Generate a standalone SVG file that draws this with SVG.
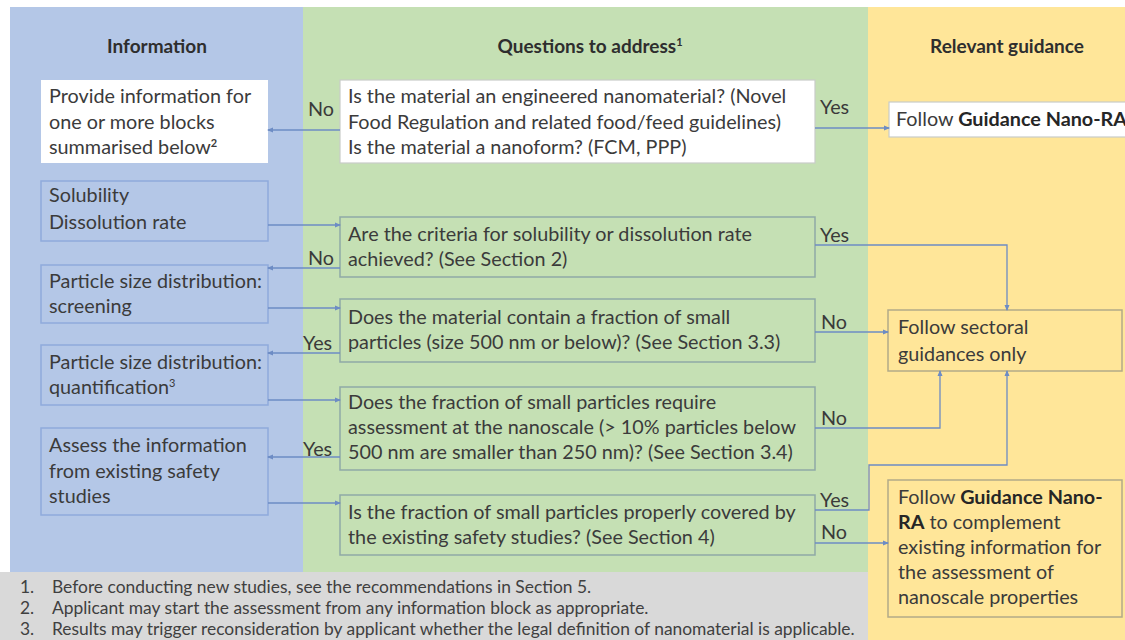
<svg xmlns="http://www.w3.org/2000/svg" width="1125" height="640" viewBox="0 0 1125 640">
<defs>
<marker id="ah" markerWidth="6" markerHeight="6" refX="5" refY="3" orient="auto" markerUnits="userSpaceOnUse">
<path d="M0,0.5 L6,3 L0,5.5 Z" fill="#6d8cc4"/>
</marker>
</defs>
<style>
.t{font-family:Lato,"Liberation Sans",sans-serif;font-size:19.8px;fill:#3b3b3b}
.h{font-weight:bold;font-size:19px;text-anchor:middle;fill:#2e2e2e}
.b{font-weight:bold;fill:#262626}
.fn{font-size:17.4px;fill:#404040}
.lbl{fill:#3a3a3a}
.conn path{fill:none;stroke:#6d8cc4;stroke-width:1.3}
.bb{fill:#b4c7e7;stroke:#8faadc;stroke-width:1.5}
.gb{fill:#c5e0b4;stroke:#8fa9a6;stroke-width:1.5}
.yb{fill:#ffe699;stroke:#b3aa88;stroke-width:1.5}
.wb{fill:#ffffff;stroke:#c8ccc8;stroke-width:1.2}
</style>
<rect x="0" y="0" width="1125" height="640" fill="#ffffff"/>
<g id="background">
<rect x="10" y="7" width="293" height="565" fill="#b4c7e7"/>
<rect x="303" y="7" width="565" height="565" fill="#c5e0b4"/>
<rect x="868" y="7" width="257" height="633" fill="#ffe699"/>
<rect x="0" y="572" width="868" height="68" fill="#d9d9d9"/>
</g>
<g id="headers">
<text class="t h" x="157" y="53">Information</text>
<text class="t h" x="590" y="53">Questions to address<tspan font-size="11" dy="-7">1</tspan></text>
<text class="t h" x="1007" y="53">Relevant guidance</text>
</g>
<g id="n-provide">
<rect x="41" y="80" width="227" height="83" fill="#ffffff"/>
<text class="t" x="49" y="103">Provide information for</text>
<text class="t" x="49" y="129">one or more blocks</text>
<text class="t" x="49" y="154">summarised below<tspan font-size="11" dy="-7" font-weight="bold">2</tspan></text>
</g>
<g id="n-q1">
<rect class="wb" x="340" y="80" width="475" height="83"/>
<text class="t" x="348" y="103">Is the material an engineered nanomaterial? (Novel</text>
<text class="t" x="348" y="129">Food Regulation and related food/feed guidelines)</text>
<text class="t" x="348" y="154">Is the material a nanoform? (FCM, PPP)</text>
</g>
<g id="n-nanora1">
<rect class="wb" x="889" y="102" width="240" height="35"/>
<text class="t" x="896" y="126" font-size="19px">Follow <tspan class="b">Guidance Nano-RA</tspan></text>
</g>
<g id="n-solubility">
<rect class="bb" x="41" y="181" width="227" height="60"/>
<text class="t" x="49" y="202">Solubility</text>
<text class="t" x="49" y="229">Dissolution rate</text>
</g>
<g id="n-screening">
<rect class="bb" x="41" y="265" width="227" height="58"/>
<text class="t" x="49" y="288">Particle size distribution:</text>
<text class="t" x="49" y="313">screening</text>
</g>
<g id="n-quant">
<rect class="bb" x="41" y="345" width="227" height="60"/>
<text class="t" x="49" y="369">Particle size distribution:</text>
<text class="t" x="49" y="394">quantification<tspan font-size="11" dy="-7">3</tspan></text>
</g>
<g id="n-assess">
<rect class="bb" x="41" y="428" width="227" height="87"/>
<text class="t" x="49" y="452">Assess the information</text>
<text class="t" x="49" y="478">from existing safety</text>
<text class="t" x="49" y="503">studies</text>
</g>
<g id="n-q2">
<rect class="gb" x="340" y="217" width="475" height="60"/>
<text class="t" x="348" y="241">Are the criteria for solubility or dissolution rate</text>
<text class="t" x="348" y="266">achieved? (See Section 2)</text>
</g>
<g id="n-q3">
<rect class="gb" x="340" y="299" width="475" height="63"/>
<text class="t" x="348" y="324">Does the material contain a fraction of small</text>
<text class="t" x="348" y="349">particles (size 500 nm or below)? (See Section 3.3)</text>
</g>
<g id="n-q4">
<rect class="gb" x="340" y="387" width="475" height="83"/>
<text class="t" x="348" y="409">Does the fraction of small particles require</text>
<text class="t" x="348" y="434">assessment at the nanoscale (&gt; 10% particles below</text>
<text class="t" x="348" y="459">500 nm are smaller than 250 nm)? (See Section 3.4)</text>
</g>
<g id="n-q5">
<rect class="gb" x="340" y="495" width="475" height="60"/>
<text class="t" x="348" y="519">Is the fraction of small particles properly covered by</text>
<text class="t" x="348" y="544">the existing safety studies? (See Section 4)</text>
</g>
<g id="n-sectoral">
<rect class="yb" x="888" y="310" width="234" height="61"/>
<text class="t" x="898" y="334">Follow sectoral</text>
<text class="t" x="898" y="361">guidances only</text>
</g>
<g id="n-nanora2">
<rect class="yb" x="888" y="480" width="234" height="137"/>
<text class="t" x="898" y="504">Follow <tspan class="b">Guidance Nano-</tspan></text>
<text class="t" x="898" y="529"><tspan class="b">RA</tspan> to complement</text>
<text class="t" x="898" y="554">existing information for</text>
<text class="t" x="898" y="579">the assessment of</text>
<text class="t" x="898" y="604">nanoscale properties</text>
</g>
<g id="connectors" class="conn">
<path d="M340,130 H268" marker-end="url(#ah)"/>
<path d="M815,128 H889" marker-end="url(#ah)"/>
<path d="M268,225 H340" marker-end="url(#ah)"/>
<path d="M340,268 H268" marker-end="url(#ah)"/>
<path d="M268,308 H340" marker-end="url(#ah)"/>
<path d="M340,353 H268" marker-end="url(#ah)"/>
<path d="M268,400 H340" marker-end="url(#ah)"/>
<path d="M340,457 H268" marker-end="url(#ah)"/>
<path d="M268,503 H340" marker-end="url(#ah)"/>
<path d="M815,245 H1007 V310" marker-end="url(#ah)"/>
<path d="M815,332 H888" marker-end="url(#ah)"/>
<path d="M815,428 H940 V371" marker-end="url(#ah)"/>
<path d="M815,510 H869 V465 H1007 V371" marker-end="url(#ah)"/>
<path d="M815,543 H888" marker-end="url(#ah)"/>
</g>
<g id="labels">
<text class="t lbl" x="308" y="116">No</text>
<text class="t lbl" x="820" y="114">Yes</text>
<text class="t lbl" x="308" y="265">No</text>
<text class="t lbl" x="303" y="350">Yes</text>
<text class="t lbl" x="303" y="456">Yes</text>
<text class="t lbl" x="820" y="242">Yes</text>
<text class="t lbl" x="821" y="329">No</text>
<text class="t lbl" x="821" y="425">No</text>
<text class="t lbl" x="820" y="507">Yes</text>
<text class="t lbl" x="821" y="539">No</text>
</g>
<g id="footnotes">
<text class="t fn" x="20" y="593">1.</text>
<text class="t fn" x="52" y="593">Before conducting new studies, see the recommendations in Section 5.</text>
<text class="t fn" x="20" y="614">2.</text>
<text class="t fn" x="52" y="614">Applicant may start the assessment from any information block as appropriate.</text>
<text class="t fn" x="20" y="635">3.</text>
<text class="t fn" x="52" y="635">Results may trigger reconsideration by applicant whether the legal definition of nanomaterial is applicable.</text>
</g>
</svg>
